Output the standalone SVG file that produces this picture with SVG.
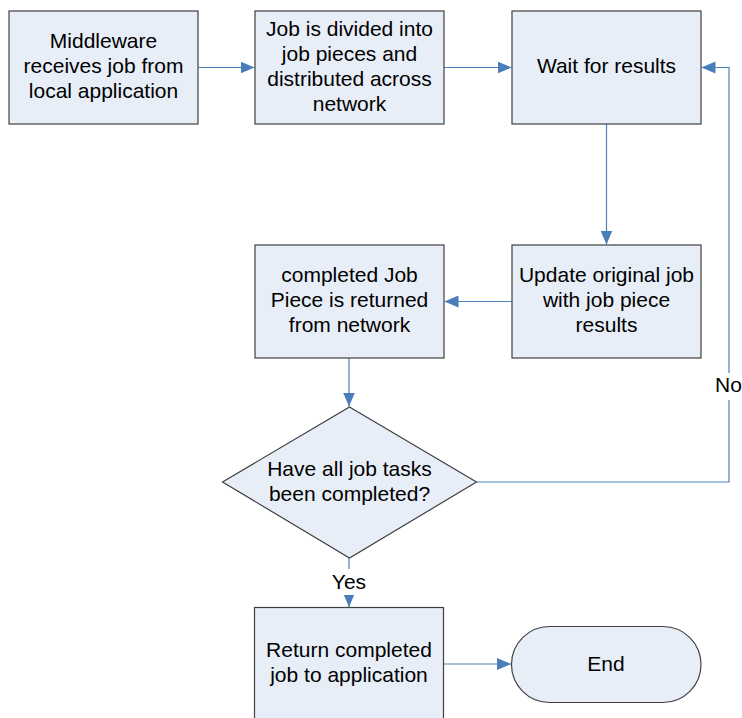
<svg xmlns="http://www.w3.org/2000/svg" width="742" height="718" viewBox="0 0 742 718">
  <defs>
    <style>
      .box { fill: #E8EEF7; stroke: #404040; stroke-width: 1.2; }
      .conn { fill: none; stroke: #4F81BD; stroke-width: 1.2; }
      .lbl { font-family: "Liberation Sans", Arial, sans-serif; font-size: 21px; fill: #000; text-anchor: middle; }
      .gap { fill: #FFFFFF; stroke: none; }
    </style>
    <marker id="arrow" viewBox="0 0 14 12" refX="14" refY="6" markerWidth="14" markerHeight="12" markerUnits="userSpaceOnUse" orient="auto">
      <path d="M0,0 L14,6 L0,12 Z" fill="#4A7EBB"/>
    </marker>
  </defs>

  <rect width="742" height="718" fill="#FFFFFF"/>

  <!-- connectors -->
  <g id="connectors">
    <path class="conn" d="M198,67.5 H254.5" marker-end="url(#arrow)"/>
    <path class="conn" d="M444,67.5 H511.5" marker-end="url(#arrow)"/>
    <path class="conn" d="M606.5,124 V244.5" marker-end="url(#arrow)"/>
    <path class="conn" d="M512,301.5 H444.5" marker-end="url(#arrow)"/>
    <path class="conn" d="M349,358 V406.5" marker-end="url(#arrow)"/>
    <path class="conn" d="M349,558 V607" marker-end="url(#arrow)"/>
    <path class="conn" d="M476.5,482 H729 V67.5 H701.5" marker-end="url(#arrow)"/>
    <path class="conn" d="M444,664 H511" marker-end="url(#arrow)"/>
    <!-- branch labels -->
    <rect class="gap" x="330" y="569" width="38" height="26"/>
    <text class="lbl" x="349" y="589">Yes</text>
    <rect class="gap" x="713" y="373" width="29" height="27"/>
    <text class="lbl" x="728.5" y="392">No</text>
  </g>

  <g id="receive">
    <rect class="box" x="9" y="11" width="189" height="113"/>
    <text class="lbl" x="103.5" y="47.5">Middleware</text>
    <text class="lbl" x="103.5" y="72.5">receives job from</text>
    <text class="lbl" x="103.5" y="97.5">local application</text>
  </g>

  <g id="divide">
    <rect class="box" x="255" y="11" width="189" height="113"/>
    <text class="lbl" x="349.5" y="36">Job is divided into</text>
    <text class="lbl" x="349.5" y="61">job pieces and</text>
    <text class="lbl" x="349.5" y="86">distributed across</text>
    <text class="lbl" x="349.5" y="111">network</text>
  </g>

  <g id="wait">
    <rect class="box" x="512" y="11" width="189" height="113"/>
    <text class="lbl" x="606.5" y="73">Wait for results</text>
  </g>

  <g id="update">
    <rect class="box" x="512" y="245" width="189" height="113"/>
    <text class="lbl" x="606.5" y="282">Update original job</text>
    <text class="lbl" x="606.5" y="307">with job piece</text>
    <text class="lbl" x="606.5" y="332">results</text>
  </g>

  <g id="returned">
    <rect class="box" x="255" y="245" width="189" height="113"/>
    <text class="lbl" x="349.5" y="282">completed Job</text>
    <text class="lbl" x="349.5" y="307">Piece is returned</text>
    <text class="lbl" x="349.5" y="332">from network</text>
  </g>

  <g id="decision">
    <polygon class="box" points="349.5,407 476.5,482 349.5,558 222.5,482"/>
    <text class="lbl" x="349.5" y="476">Have all job tasks</text>
    <text class="lbl" x="349.5" y="501">been completed?</text>
  </g>

  <g id="return-job">
    <rect class="box" x="254.5" y="607.5" width="189" height="113"/>
    <text class="lbl" x="349" y="657">Return completed</text>
    <text class="lbl" x="349" y="682">job to application</text>
  </g>

  <g id="end">
    <rect class="box" x="511.5" y="626.5" width="189.5" height="76" rx="38" ry="38"/>
    <text class="lbl" x="606" y="671">End</text>
  </g>
</svg>
